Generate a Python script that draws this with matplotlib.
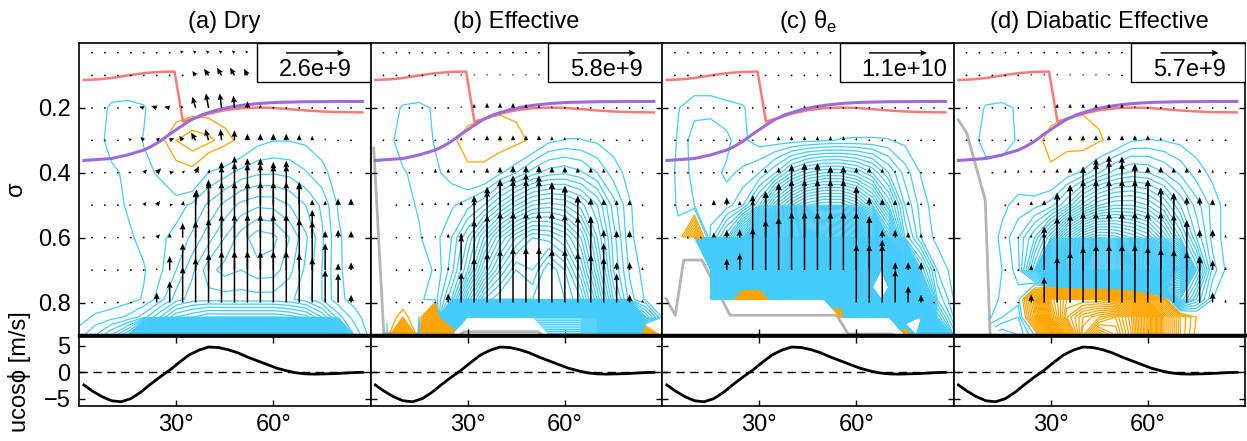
import numpy as np
import matplotlib
matplotlib.use("Agg")
import matplotlib.pyplot as plt
from matplotlib.patches import Rectangle

plt.rcParams['font.family'] = ['Liberation Sans', 'DejaVu Sans']
plt.rcParams['font.size'] = 17
plt.rcParams['mathtext.fontset'] = 'custom'
plt.rcParams['mathtext.rm'] = 'Liberation Sans'
plt.rcParams['axes.linewidth'] = 1.2

nan = np.nan

# ---- grid of the divergence fields (latitude x sigma) ----
lat_g = [0, 5, 10, 15, 20, 25, 30, 35, 40, 45, 50, 55, 60, 65, 70, 75, 80, 85, 90]
sig_g = [0.0, 0.1, 0.2, 0.3, 0.4, 0.5, 0.6, 0.7, 0.79, 0.845, 0.9]

div_dry = [
    [0]*19,
    [0]*19,
    [0, -0.4, -1.2, -1.3, -1.1, -0.3, 0.2, 0.4, 0.4, 0.2, 0, 0, 0, 0, 0, 0, 0, 0, 0],
    [0, -0.5, -1.4, -1.5, -0.95, 0.6, 2.0, 2.7, 2.3, 1.5, 0.6, -0.6, -0.95, -0.95, -0.8, -0.5, -0.2, 0, 0],
    [0, -0.3, -0.8, -1.2, -1.2, -0.9, 0.4, 0.6, -1.05, -1.6, -2.4, -2.8, -2.9, -2.7, -2.1, -1.3, -0.5, -0.1, 0],
    [0, -0.2, -0.6, -1.1, -1.3, -1.4, -1.6, -2.2, -3.2, -4.3, -5.3, -5.8, -5.7, -5.0, -4.0, -2.8, -0.9, -0.3, 0],
    [0, -0.1, -0.4, -0.8, -1.3, -1.8, -2.3, -3.2, -4.6, -6.0, -7.5, -8.6, -8.3, -7.0, -5.2, -3.2, -1.2, -0.3, 0],
    [0, -0.1, -0.2, -0.5, -0.9, -1.8, -3.0, -4.8, -6.6, -7.4, -7.0, -7.6, -7.5, -6.3, -4.8, -3.0, -1.2, -0.4, 0],
    [-0.1, -0.2, -0.3, -0.6, -1.1, -2.5, -4.5, -5.5, -5.6, -5.5, -5.5, -5.5, -5.5, -5.2, -4.5, -3.0, -1.3, -0.6, -0.1],
    [-0.5, -1.2, -1.6, -2.2, -3.5, -6, -9, -10, -11, -11, -11, -11, -11, -10.5, -9.5, -7, -3.5, -1.5, -0.3],
    [-1.5, -3, -5, -8, -25, -60, -90, -100, -100, -100, -100, -100, -100, -95, -80, -55, -25, -3, -0.5],
]

div_eff = [
    [0]*19,
    [0]*19,
    [0, -0.5, -1.1, -1.2, -0.9, 0.2, 0.5, 0.7, 0.7, 0.6, 0.3, 0, 0, 0, 0, 0, 0, 0, 0],
    [0, -0.6, -1.5, -1.6, -0.9, 0.8, 1.4, 1.6, 2.05, 1.5, 0.7, -0.7, -1.05, -1.05, -0.8, -0.5, -0.2, 0, 0],
    [0, -0.3, -0.9, -1.3, -1.2, -0.6, 0.8, 0.7, -0.8, -2.0, -3.5, -4.5, -4.8, -4.2, -3.0, -1.5, -0.6, -0.2, 0],
    [0, -0.1, -0.7, -1.1, -1.5, -1.8, -2.6, -4.0, -6.5, -9, -11, -11.5, -11, -9.5, -7, -3.5, -1.1, -0.3, 0],
    [0, 0, -0.3, -0.9, -1.6, -3.0, -6.0, -10, -14, -17, -19, -18.5, -17, -14, -9, -4.5, -1.2, -0.4, 0],
    [0, 0, -0.2, -0.6, -1.1, -3.5, -8, -14, -18, -21, -20, -23, -21, -17, -11, -5, -1.8, -0.5, 0],
    [0, 0, -0.3, -0.8, -1.5, -6, -14, -20, -22, -22, -22, -22, -22, -20, -14, -7, -2.5, -0.8, -0.1],
    [nan, -0.5, 2, -1, 15, -60, -150, -150, -150, -150, -150, -150, -150, -150, -140, -100, -40, -6, -1],
    [nan, -2, 20, -3, 40, 40, nan, nan, nan, nan, nan, -160, -160, -160, -150, -100, -30, 8, 0],
]

div_theta = [
    [0]*19,
    [0]*19,
    [0, -0.95, -1.6, -1.6, -1.3, -1.1, -0.3, 0, 0, 0, 0, 0, 0, 0, 0, 0, 0, 0, 0],
    [-0.2, -1.1, -2.6, -2.8, -2.3, -1.2, -0.5, -0.4, -0.5, -0.7, -0.9, -1.05, -1.1, -1.1, -1.05, -0.7, -0.3, -0.1, 0],
    [-0.3, -1.2, -2.4, -2.4, -1.8, -2.2, -3.0, -5, -8, -10, -11, -11, -10, -8, -5, -2.5, -0.9, -0.2, 0],
    [-0.4, -1.1, -2.0, -2.2, -2.5, -4, -8, -14, -18, -21, -22, -22, -20, -16, -10, -4, -1.5, -0.4, 0],
    [-0.5, -0.8, 8, -3.5, -8, -16, -30, -45, -50, -52, -52, -50, -48, -35, -18, -6, -2, -0.6, 0],
    [nan, nan, nan, -200, -250, -250, -250, -250, -250, -250, -250, -250, -240, -200, -100, -30, -8, -2, -0.5],
    [nan, nan, nan, -60, -80, 100, 100, -80, -60, -60, -60, -60, -80, -110, -180, -80, -20, -4, -1],
    [nan, nan, nan, nan, nan, nan, nan, nan, nan, nan, nan, 50, -300, -300, -250, -120, -40, -8, -2],
    [nan, nan, nan, nan, nan, nan, nan, nan, nan, nan, nan, nan, nan, nan, nan, 60, -100, -30, -5],
]

div_diab = [
    [0]*19,
    [0]*19,
    [0, -0.3, -1.1, -1.2, -0.9, 0, 0.5, 0.7, 0.7, 0.6, 0.4, 0, 0, 0, 0, 0, 0, 0, 0],
    [0, -0.5, -1.4, -1.4, -0.9, 0.6, 1.4, 1.7, 2.05, 1.2, 0.4, -0.9, -1.05, -0.95, -0.7, -0.4, -0.2, 0, 0],
    [0, -0.2, -0.6, -0.6, -0.4, 0.5, 0.8, -0.3, -1.3, -3.0, -4.5, -5.2, -5.0, -4.0, -2.8, -1.5, -0.7, -0.1, 0],
    [nan, nan, -0.3, -0.8, -1.3, -1.6, -2.5, -5, -8.5, -11, -12, -12, -11, -9, -6, -3.5, -1.6, -0.4, 0],
    [nan, nan, -0.4, -1.2, -3, -6, -11, -17, -21, -23, -22.5, -21, -19, -15, -10, -5, -1.6, -0.4, 0],
    [nan, nan, -0.2, -1.0, -2.5, -10, -35, -50, -55, -55, -55, -55, -50, -40, -25, -10, -2.5, -0.5, 0],
    [nan, nan, -0.3, -1.2, -1.5, 8, 25, 30, 30, 30, 28, 22, 12, 3, -10, -5, -1, 0, 0],
    [nan, nan, -0.5, -2, -3, 6, 22, 32, 36, 38, 40, 35, 25, 12, 4, 1, 0, 0, 0],
    [nan, nan, nan, -5, -4, -1, 10, 25, 38, 45, 42, 36, 25, 12, 4, 0.5, 0, 0, 0],
]

# ---- EP flux arrows (units of 1e9) ----
lat_q = np.arange(4, 85, 4)
sig_q = [0.03, 0.1, 0.2, 0.3, 0.4, 0.5, 0.6, 0.7, 0.8]

w_dry = [
    [0, 0, 0, 0, 0, 0, 0, 0.1, 0.1, 0.1, 0.1, 0.1, 0.1, 0, 0, 0, 0, 0, 0, 0, 0],
    [0, 0, 0, 0, 0, 0, 0, 0, 0.2, 0.3, 0.35, 0.35, 0.3, 0.2, 0, 0, 0, 0, 0, 0, 0],
    [0, 0, 0, 0.02, 0.05, 0.08, 0.05, 0.1, 0.5, 0.65, 0.65, 0.55, 0.3, 0.15, 0, 0, 0, 0, 0, 0, 0],
    [0, 0, 0, 0.1, 0.15, 0.12, 0.1, 0.2, 0.35, 0.5, 0.5, 0.45, 0.3, 0.3, 0.3, 0.3, 0.25, 0.2, 0.1, 0, 0],
    [0, 0, 0, 0.03, 0.15, 0.2, 0.05, 0.1, 0.3, 0.15, 0.3, 0.45, 0.4, 0.4, 0.35, 0.35, 0.1, 0.05, 0.05, 0.05, 0],
    [0, 0, 0, 0.02, 0.15, 0.2, 0.05, 0.2, 0.7, 1.15, 1.95, 2.2, 2.1, 2.1, 1.95, 2.0, 1.0, 0.25, 0.2, 0.3, 0.3],
    [0, 0, 0, 0, 0, 0.15, 0.2, 0.66, 2.1, 2.5, 2.5, 2.5, 2.5, 2.5, 2.5, 2.5, 2.5, 1.25, 0.3, 0.35, 0.3],
    [0, 0, 0, 0, 0, 0.1, 0.63, 1.2, 2.2, 2.3, 2.5, 2.5, 2.5, 2.5, 2.5, 2.5, 2.3, 2.2, 1.2, 0.3, 0.35],
    [0, 0, 0, 0, 0, 0.45, 0.95, 1.6, 2.0, 2.2, 2.3, 2.3, 2.3, 2.3, 2.3, 2.3, 2.2, 2.0, 1.45, 1.3, 0.35],
]
v_dry = [
    [0, 0, 0, 0, 0, 0, 0, -0.12, -0.12, -0.12, -0.12, -0.12, -0.1, 0, 0, 0, 0, 0, 0, 0, 0],
    [0, 0, 0, 0, 0, 0, 0, 0, -0.15, -0.2, -0.2, -0.2, -0.15, -0.1, 0, 0, 0, 0, 0, 0, 0],
    [0, 0, 0, -0.12, -0.2, -0.25, -0.25, -0.1, -0.15, -0.12, -0.08, -0.05, 0, 0, 0, 0, 0, 0, 0, 0, 0],
    [0, 0, 0, -0.1, -0.15, 0.15, 0.2, -0.15, -0.2, -0.15, -0.05, 0, 0, 0, 0, 0, 0, 0, 0, 0, 0],
    [0, 0, 0, -0.12, 0.15, 0.2, 0.2, 0.1, 0.15, 0.05, 0, 0, 0, 0, 0, 0, 0, 0, 0, 0, 0],
    [0, 0, 0, -0.1, 0.12, 0.15, 0.15, 0.05, 0.05, 0, 0, 0, 0, 0, 0, 0, 0, 0, 0, 0, 0],
    [0, 0, 0, 0, 0, 0.15, 0, 0, 0, 0, 0, 0, 0, 0, 0, 0, 0, 0, 0, 0, 0],
    [0]*21,
    [0]*21,
]

w_eff = [
    [0]*21,
    [0, 0, 0, 0, 0, 0.2, 0.2, 0.2, 0.2, 0.2, 0.2, 0.2, 0.2, 0, 0, 0, 0, 0, 0, 0, 0],
    [0, 0, 0, 0, 0, 0, 0.2, 0.4, 0.5, 0.5, 0.5, 0.4, 0.3, 0.2, 0, 0, 0, 0, 0, 0, 0],
    [0, 0, 0, 0, 0, 0.2, 0.3, 0.3, 0.5, 0.5, 0.5, 0.5, 0.5, 0.4, 0.3, 0.2, 0.2, 0, 0, 0, 0],
    [nan, 0, 0, 0, 0.4, 0.4, 0.4, 0.3, 0.5, 0.6, 0.7, 0.7, 0.7, 0.6, 0.6, 0.5, 0.5, 0.4, 0.3, 0.2, 0],
    [nan, 0, 0, 0.3, 0.3, 0.3, 0.4, 0.5, 1.5, 2.6, 3.0, 3.2, 3.0, 2.3, 1.9, 0.9, 0.7, 0.6, 0.5, 0.5, 0],
    [nan, 0, 0, 0, 0.2, 0.4, 0.5, 4.2, 5.1, 5.8, 5.8, 5.8, 5.8, 5.5, 5.2, 4.2, 2.1, 0.8, 0.7, 0.7, 0],
    [nan, 0, 0, 0, 0, 0.3, 3.5, 5.0, 5.5, 5.8, 5.8, 5.8, 5.8, 5.8, 5.6, 5.4, 5.4, 2.7, 0.8, 0.8, 0.3],
    [nan, 0, 0, 0, 0, 0.9, 3.0, 4.5, 5.0, 5.3, 5.5, 5.5, 5.5, 5.3, 5.3, 5.0, 4.8, 4.5, 2.9, 0.8, 0.3],
]

w_theta = [
    [0]*21,
    [0]*21,
    [0, 0, 0, 0, 0, 0, 0, 0, 0.5, 0.5, 0.5, 0.5, 0, 0, 0, 0, 0, 0, 0, 0, 0],
    [0, 0, 0, 0, 0, 0, 0, 0.5, 0.8, 0.8, 0.8, 0.8, 0.8, 0.8, 0.5, 0, 0, 0, 0, 0, 0],
    [0, 0, 0, 0, 0, 0, 0.5, 0.8, 1.0, 1.5, 1.8, 1.8, 1.2, 1.2, 1.0, 1.0, 0.8, 0.5, 0, 0, 0],
    [0, 0, 0, 1.0, 1.5, 0.8, 1.0, 2.6, 4.2, 7.7, 8.0, 8.0, 7.4, 7.4, 3.6, 1.5, 1.2, 1.0, 0.8, 0.5, 0],
    [0, 0, 0, 1.0, 1.5, 1.6, 8.1, 8.8, 10.3, 11, 11, 11, 11, 11, 9.7, 4.1, 1.5, 1.5, 1.0, 0.8, 0.3],
    [nan, nan, nan, nan, 2.2, 3.2, 8.0, 9.5, 10, 11, 11, 11, 11, 11, 11, 10.2, 5.8, 1.5, 1.5, 1.5, 0.3],
    [nan, nan, nan, nan, nan, nan, nan, nan, nan, nan, nan, nan, nan, nan, 11, 11, 11, 6.2, 3.1, 1.5, 0.3],
]

w_diab = [
    [0]*21,
    [0, 0, 0, 0, 0, 0.2, 0.2, 0.2, 0.2, 0.2, 0.2, 0.2, 0, 0, 0, 0, 0, 0, 0, 0, 0],
    [0, 0, 0, 0, 0, 0, 0.2, 0.4, 0.4, 0.4, 0.4, 0.4, 0.4, 0.2, 0, 0, 0, 0, 0, 0, 0],
    [0, 0, 0, 0, 0, 0, 0, 0.3, 0.5, 0.5, 0.5, 0.5, 0.5, 0.5, 0.5, 0.3, 0, 0, 0, 0, 0],
    [nan, nan, 0, 0.3, 0.3, 0.3, 0.3, 0.4, 0.5, 0.6, 1.0, 1.2, 1.0, 0.8, 0.6, 0.6, 0.5, 0.5, 0.4, 0.3, 0],
    [nan, nan, nan, 0, 0.3, 0.4, 0.5, 1.2, 2.0, 3.8, 4.6, 4.9, 4.8, 4.1, 2.5, 1.7, 1.2, 0.8, 0.8, 0.6, 0],
    [nan, nan, nan, 0, 0, 0.3, 0.5, 4.4, 5.2, 5.7, 5.7, 5.7, 5.7, 5.7, 5.7, 4.9, 4.4, 1.7, 0.8, 0.8, 0.3],
    [nan, nan, nan, 0, 0, 0.5, 4.3, 5.2, 5.5, 5.7, 5.7, 5.7, 5.7, 5.7, 5.7, 5.7, 5.5, 4.9, 1.4, 1.0, 0.3],
    [nan, nan, nan, 0, 0, 0.8, 2.5, 4.5, 5.0, 5.5, 5.7, 5.7, 5.7, 5.7, 5.5, 5.3, 5.2, 5.0, 4.5, 1.0, 0.3],
]

ref_values = [2.6, 5.8, 11.0, 5.7]
ref_labels = ['2.6e+9', '5.8e+9', '1.1e+10', '5.7e+9']

# ---- lines ----
trop_lat = [1.5, 6, 10, 15, 20, 25, 29.5, 32.1, 35.7, 40, 45, 50, 55, 60, 65, 70, 75, 80, 87.5]
trop_sig = [0.114, 0.112, 0.108, 0.1, 0.093, 0.089, 0.088, 0.242, 0.232, 0.218, 0.207, 0.201,
            0.199, 0.2, 0.204, 0.208, 0.211, 0.213, 0.214]
isen_lat = [1.5, 10, 15, 20, 22.3, 25, 28.4, 31.5, 34.6, 38, 42.8, 47, 51.1, 56, 61.3, 70, 87.5]
isen_sig = [0.362, 0.356, 0.345, 0.33, 0.319, 0.303, 0.278, 0.257, 0.237, 0.221, 0.206, 0.197,
            0.191, 0.186, 0.183, 0.181, 0.18]

surf_eff_lat = [1.0, 4.1, 27.7, 28.8, 51.9, 53.0]
surf_eff_sig = [0.324, 0.895, 0.9, 0.89, 0.89, 0.9]
surf_theta_lat = [1.2, 4.1, 6.7, 12.3, 21.0, 53.9, 57.5, 70.8, 71.8]
surf_theta_sig = [0.787, 0.839, 0.669, 0.669, 0.839, 0.839, 0.897, 0.897, 0.9]
surf_diab_lat = [1.5, 4.1, 9.8, 11.3]
surf_diab_sig = [0.237, 0.278, 0.484, 0.894]

lat_u = [1.5, 4, 7, 10, 13, 16, 19, 22, 25, 28, 31, 34, 37, 40, 43, 46, 49, 52, 55, 58,
         61, 64, 67, 70, 73, 76, 79, 82, 85, 87.5]
u_wind = [-2.4, -3.5, -4.6, -5.4, -5.6, -5.0, -3.8, -2.3, -0.9, 0.4, 1.9, 3.3, 4.2, 4.8, 4.7,
          4.3, 3.7, 2.9, 2.2, 1.5, 0.8, 0.3, -0.1, -0.3, -0.35, -0.3, -0.25, -0.15, -0.05, 0.0]

titles = ['(a) Dry', '(b) Effective', '(c) θ$_\\mathregular{e}$', '(d) Diabatic Effective']
fields = [div_dry, div_eff, div_theta, div_diab]
flux_w = [w_dry, w_eff, w_theta, w_diab]
flux_v = [v_dry, None, None, None]
surfaces = [None, (surf_eff_lat, surf_eff_sig), (surf_theta_lat, surf_theta_sig),
            (surf_diab_lat, surf_diab_sig)]

cyan = '#45ccfd'
orange = '#ffa500'
neg_levels = np.arange(-600, 0, 1.0)
pos_levels = np.arange(1, 101, 1.0)

W, H = 1247, 441
fig = plt.figure(figsize=(W / 100, H / 100), dpi=100)

lefts = [79, 370.5, 662, 953.5]
pw = 291.5
LG, SG = np.meshgrid(lat_g, sig_g)
LQ, SQ = np.meshgrid(lat_q, sig_q)

for i in range(4):
    ax = fig.add_axes([lefts[i] / W, 1 - 335 / H, pw / W, 292 / H])
    bx = fig.add_axes([lefts[i] / W, 1 - 406 / H, pw / W, 69 / H])

    Z = np.array(fields[i], dtype=float)
    if surfaces[i] is not None:
        ax.plot(surfaces[i][0], surfaces[i][1], color='#b4b4b4', lw=2, zorder=1)
    ax.contour(LG, SG, Z, levels=neg_levels, colors=cyan, linewidths=0.9,
               linestyles='solid', zorder=2)
    ax.contour(LG, SG, Z, levels=pos_levels, colors=orange, linewidths=0.9,
               linestyles='solid', zorder=2)

    ax.plot(trop_lat, trop_sig, color='#f77b7b', lw=1.8, zorder=3)
    ax.plot(isen_lat, isen_sig, color='#9b6bd9', lw=2.2, zorder=3)

    Wq = np.array(flux_w[i], dtype=float)
    Vq = np.zeros_like(Wq) if flux_v[i] is None else np.array(flux_v[i], dtype=float)
    ok = np.isfinite(Wq)
    sc = ref_values[i] / 0.58
    qkw = dict(angles='uv', scale_units='inches', scale=sc, units='inches',
               width=0.015, headwidth=4, headlength=4.5, headaxislength=4,
               minlength=1.3, color='black')
    ax.quiver(LQ[ok], SQ[ok], Vq[ok], Wq[ok], zorder=4, **qkw)

    # reference arrow box
    ax.add_patch(Rectangle((0.61, 0.865), 0.39, 0.135, transform=ax.transAxes,
                           facecolor='white', edgecolor='black', lw=1.0, zorder=5))
    ax.quiver([0.81], [0.966], [ref_values[i]], [0], transform=ax.transAxes,
              pivot='middle', zorder=6, **qkw)
    ax.text(0.685, 0.886, ref_labels[i], transform=ax.transAxes, ha='left',
            va='baseline', zorder=7)

    ax.set_xlim(0, 90)
    ax.set_ylim(0.9, 0)
    ax.set_xticks([30, 60])
    ax.set_yticks([0.2, 0.4, 0.6, 0.8])
    ax.set_yticklabels(['0.2', '0.4', '0.6', '0.8'])
    ax.tick_params(direction='in', length=4, width=1, left=True, right=True,
                   bottom=True, top=False, labelbottom=False, labelleft=(i == 0), pad=6)
    ax.spines['bottom'].set_linewidth(2.5)

    bx.plot(lat_u, u_wind, color='black', lw=2)
    bx.axhline(0, color='black', lw=1, dashes=(6, 4))
    bx.set_xlim(0, 90)
    bx.set_ylim(-6.4, 6.7)
    bx.set_xticks([30, 60])
    bx.set_xticklabels(['30°', '60°'])
    bx.set_yticks([-5, 0, 5])
    bx.set_yticklabels(['\u22125', '0', '5'])
    bx.tick_params(direction='in', length=4, width=1, left=True, right=True,
                   top=True, bottom=True, labelleft=(i == 0), pad=6)

    fig.text((lefts[i] + pw / 2) / W, 1 - 28.3 / H, titles[i], ha='center', va='baseline')

fig.text(16 / W, 1 - 189 / H, 'σ', rotation=90, ha='center', va='center')
fig.text(20 / W, 1 - 372 / H, 'ucosϕ [m/s]', rotation=90, ha='center', va='center')

fig.savefig('out.png', dpi=100)
